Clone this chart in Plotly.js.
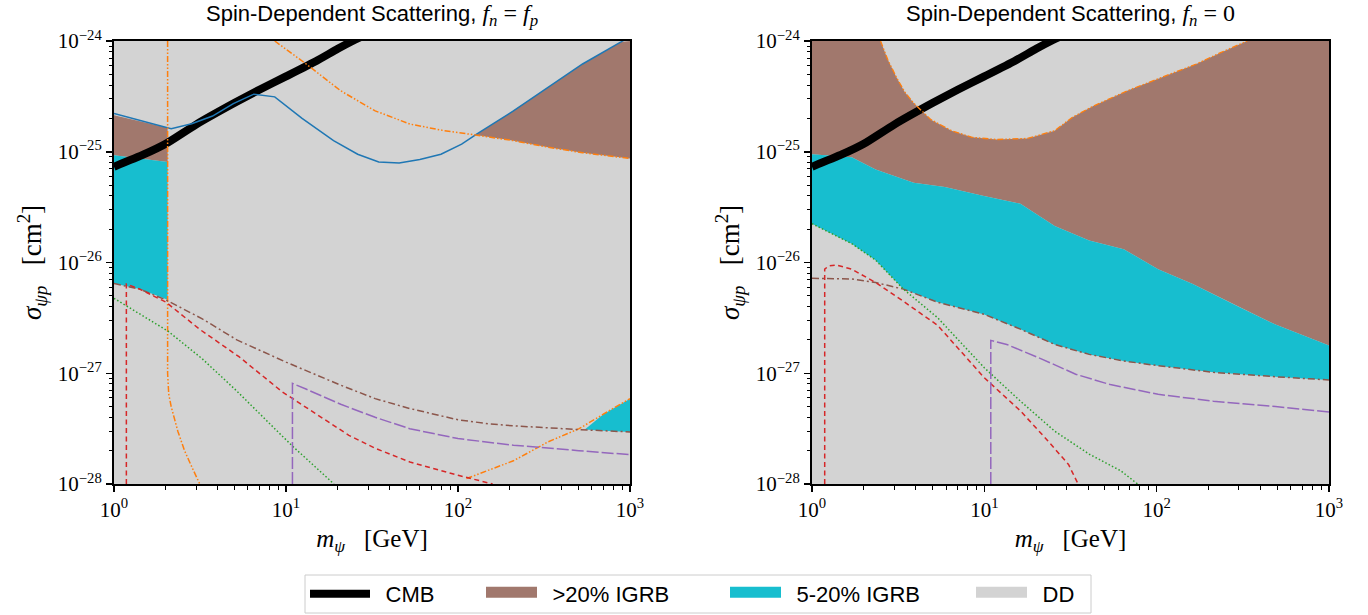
<!DOCTYPE html>
<html><head><meta charset="utf-8">
<script src="https://cdn.plot.ly/plotly-3.0.1.min.js"></script>
<style>html,body{margin:0;padding:0;background:#fff}#chart{width:1368px;height:615px}</style>
</head><body><div id="chart"></div>
<script>
// ---------- tick labels ----------
const xTickVals = [1, 10, 100, 1000];
const xTickText = ['10<sup>0</sup>', '10<sup>1</sup>', '10<sup>2</sup>', '10<sup>3</sup>'];
const yTickVals = [1e-28, 1e-27, 1e-26, 1e-25, 1e-24];
const yTickText = ['10<sup>\u221228</sup>', '10<sup>\u221227</sup>', '10<sup>\u221226</sup>', '10<sup>\u221225</sup>', '10<sup>\u221224</sup>'];

// ---------- legend labels ----------
const legendNames = ['CMB', '>20% IGRB', '5-20% IGRB', 'DD'];

// ---------- axis extents (data units) ----------
const massRange = [1, 1000];
const sigmaRange = [1e-28, 1e-24];

// ---------- CMB bound (both panels) ----------
const cmbMass  = [1, 1.5, 2, 3, 5, 7, 10, 15, 20, 25, 30];
const cmbSigma = [7.33e-26, 9.5e-26, 1.18e-25, 1.76e-25, 2.75e-25, 3.63e-25, 4.79e-25, 6.6e-25, 8.5e-25, 1.02e-24, 1.17e-24];

// ---------- Left panel: f_n = f_p ----------
const L_blueMass  = [1, 1.41, 2.15, 2.83, 3.74, 4.94, 6.5, 8.6, 12.4, 18.9, 26.1, 34.6, 45.5, 60, 79.6, 105, 129, 210, 334, 530, 887, 1100];
const L_blueSigma = [2.22e-25, 1.91e-25, 1.61e-25, 1.79e-25, 2.1e-25, 2.72e-25, 3.31e-25, 3.13e-25, 2.0e-25, 1.26e-25, 9.5e-26, 8.1e-26, 7.9e-26, 8.5e-26, 9.5e-26, 1.17e-25, 1.45e-25, 2.34e-25, 3.8e-25, 6.2e-25, 9.8e-25, 1.2e-24];

const L_orangeAMass  = [2.05, 2.05, 2.08, 2.15, 2.35, 2.57, 2.85, 3.15];
const L_orangeASigma = [1e-24, 1e-27, 6.5e-28, 5e-28, 3e-28, 2e-28, 1.4e-28, 1e-28];
const L_orangeBMass  = [8.6, 13.1, 20.8, 33, 52.5, 83, 129, 210, 334, 530, 1000];
const L_orangeBSigma = [1e-24, 6.2e-25, 3.55e-25, 2.34e-25, 1.78e-25, 1.55e-25, 1.41e-25, 1.26e-25, 1.1e-25, 9.8e-26, 8.7e-26];
const L_orangeCMass  = [112, 210, 334, 506, 700, 1000];
const L_orangeCSigma = [1.12e-28, 1.62e-28, 2.4e-28, 3.16e-28, 4.27e-28, 5.9e-28];

const L_brownDDMass  = [1, 1.41, 2, 3.26, 5.18, 10, 20.8, 33, 52.5, 75, 100, 150, 210, 504, 1000];
const L_brownDDSigma = [6.45e-27, 5.75e-27, 4.6e-27, 3.1e-27, 2.0e-27, 1.26e-27, 7.8e-28, 5.9e-28, 4.8e-28, 4.2e-28, 3.8e-28, 3.5e-28, 3.35e-28, 3.1e-28, 2.95e-28];

const L_redMass  = [1.18, 1.18, 1.41, 2, 3.14, 5.33, 9.5, 23.2, 33, 52.5, 100, 159];
const L_redSigma = [1e-28, 6.4e-27, 5.75e-27, 4.4e-27, 2.5e-27, 1.41e-27, 6.8e-28, 2.75e-28, 2.1e-28, 1.58e-28, 1.2e-28, 1e-28];

const L_greenMass  = [1, 2.06, 3.26, 5.18, 8.6, 10.9, 19];
const L_greenSigma = [4.75e-27, 2.4e-27, 1.35e-27, 6.9e-28, 3.16e-28, 2.2e-28, 1e-28];

const L_purpleMass  = [10.9, 10.9, 13.06, 20.8, 33, 52.4, 100, 210, 504, 1000];
const L_purpleSigma = [1e-28, 8.1e-28, 7.2e-28, 5.25e-28, 4.0e-28, 3.16e-28, 2.57e-28, 2.24e-28, 2.0e-28, 1.84e-28];

// filled regions, left panel
const L_hiTopMass = [1, 1.41, 2.05];
const L_hiTopSigma = [2.14e-25, 1.88e-25, 1.65e-25];
const L_hiBotMass = [2.05, 1];
const L_hiBotSigma = [8.1e-26, 9.3e-26];
const L_midMass  = [1, 2.05, 2.05, 1.41, 1];
const L_midSigma = [9.3e-26, 8.1e-26, 4.6e-27, 5.75e-27, 6.45e-27];
const L_hiRightMass  = [129, 210, 334, 530, 887, 1000, 1000, 530, 334, 210, 129];
const L_hiRightSigma = [1.45e-25, 2.34e-25, 3.8e-25, 6.2e-25, 9.8e-25, 1.0e-24, 8.7e-26, 9.8e-26, 1.1e-25, 1.26e-25, 1.41e-25];
const L_midRightMass  = [546, 700, 1000, 1000, 700, 546];
const L_midRightSigma = [3.1e-28, 4.27e-28, 5.9e-28, 2.95e-28, 3.02e-28, 3.1e-28];

// ---------- Right panel: f_n = 0 ----------
const R_holeMass  = [2.5, 2.75, 3.09, 3.45, 3.89, 4.9, 6.45, 8.5, 11.8, 17.8, 25.6, 32.3, 42.6, 67.5, 107, 170, 235, 335];
const R_holeSigma = [1e-24, 6.8e-25, 4.7e-25, 3.47e-25, 2.75e-25, 1.95e-25, 1.55e-25, 1.35e-25, 1.29e-25, 1.32e-25, 1.55e-25, 2.04e-25, 2.57e-25, 3.55e-25, 4.7e-25, 6.2e-25, 7.85e-25, 1e-24];

const R_cyanTopMass  = [1, 1.7, 2.34, 3.89, 5.9, 9.8, 16.2, 25.6, 40.6, 64.4, 102, 162, 307, 489, 1000];
const R_cyanTopSigma = [9.5e-26, 8.9e-26, 6.9e-26, 5.25e-26, 4.8e-26, 4.0e-26, 3.4e-26, 2.14e-26, 1.58e-26, 1.32e-26, 8.7e-27, 6.4e-27, 3.9e-27, 2.75e-27, 1.78e-27];

const R_greenMass  = [1, 1.7, 2.34, 3.39, 5.37, 10, 16.2, 25.6, 40.6, 61.7, 77.6];
const R_greenSigma = [2.24e-26, 1.48e-26, 1.05e-26, 5.75e-27, 3.16e-27, 1.12e-27, 5.6e-28, 3.0e-28, 1.86e-28, 1.32e-28, 1e-28];

const R_brownDDMass  = [1, 1.7, 2.34, 3.39, 5.37, 10, 16.2, 25.6, 40.6, 64.4, 102, 213, 489, 1000];
const R_brownDDSigma = [7.2e-27, 7.1e-27, 6.6e-27, 5.75e-27, 4.37e-27, 3.4e-27, 2.5e-27, 1.82e-27, 1.48e-27, 1.29e-27, 1.17e-27, 1.02e-27, 9.3e-28, 8.7e-28];

const R_redMass  = [1.185, 1.185, 1.25, 1.38, 1.7, 2.34, 3.39, 5.37, 10, 16.2, 23.4, 30.8, 35];
const R_redSigma = [1e-28, 8.7e-27, 9.3e-27, 9.5e-27, 8.7e-27, 6.6e-27, 4.47e-27, 2.7e-27, 9.1e-28, 4.57e-28, 2.45e-28, 1.5e-28, 1e-28];

const R_purpleMass  = [10.9, 10.9, 13.5, 21.4, 33.9, 53.8, 102, 213, 489, 1000];
const R_purpleSigma = [1e-28, 1.98e-27, 1.82e-27, 1.35e-27, 9.8e-28, 7.9e-28, 6.45e-28, 5.6e-28, 5.0e-28, 4.47e-28];

// ---------- colours ----------
const C = {
  dd: '#d3d3d3', hi: '#a1786d', mid: '#17becf', cmb: '#000000',
  blue: '#1f77b4', orange: '#ff7f0e', red: '#d62728', green: '#2ca02c', purple: '#9467bd', brown: '#8c564b'
};

function fillTrace(x, y, color, xa, ya) {
  return {x: x, y: y, xaxis: xa, yaxis: ya, type: 'scatter', mode: 'lines', fill: 'toself',
    fillcolor: color, line: {width: 0, color: color}, showlegend: false, hoverinfo: 'skip'};
}
function lineTrace(x, y, color, dash, width, xa, ya) {
  return {x: x, y: y, xaxis: xa, yaxis: ya, type: 'scatter', mode: 'lines',
    line: {color: color, dash: dash, width: width}, showlegend: false, hoverinfo: 'skip'};
}
function legendSwatch(name, color, legendId) {
  return {x: [null], y: [null], type: 'scatter', mode: 'lines', fill: 'toself', fillcolor: color,
    line: {color: color, width: 16}, name: name, showlegend: true, legend: legendId, hoverinfo: 'skip'};
}
const DASH = {orange: '6px,2px,1.5px,2px,1.5px,2px', red: '5px,3.5px', green: '1.5px,2.2px',
  brown: '7px,3px,2px,3px', purple: '12px,3px'};

const ddX = [massRange[0], massRange[1], massRange[1], massRange[0]];
const ddY = [sigmaRange[0], sigmaRange[0], sigmaRange[1], sigmaRange[1]];

const traces = [];
// left fills
traces.push(fillTrace(ddX, ddY, C.dd, 'x', 'y'));
traces.push(fillTrace(L_hiTopMass.concat(L_hiBotMass), L_hiTopSigma.concat(L_hiBotSigma), C.hi, 'x', 'y'));
traces.push(fillTrace(L_midMass, L_midSigma, C.mid, 'x', 'y'));
traces.push(fillTrace(L_hiRightMass, L_hiRightSigma, C.hi, 'x', 'y'));
traces.push(fillTrace(L_midRightMass, L_midRightSigma, C.mid, 'x', 'y'));
// right fills
traces.push(fillTrace(ddX, ddY, C.dd, 'x2', 'y2'));
const rBrownX = [massRange[0]].concat(R_holeMass, [massRange[1]], R_cyanTopMass.slice().reverse());
const rBrownY = [sigmaRange[1]].concat(R_holeSigma, [sigmaRange[1]], R_cyanTopSigma.slice().reverse());
traces.push(fillTrace(rBrownX, rBrownY, C.hi, 'x2', 'y2'));
const rBotX = R_greenMass.slice(0, 4).concat(R_brownDDMass.slice(4));
const rBotY = R_greenSigma.slice(0, 4).concat(R_brownDDSigma.slice(4));
traces.push(fillTrace(R_cyanTopMass.concat(rBotX.slice().reverse()), R_cyanTopSigma.concat(rBotY.slice().reverse()), C.mid, 'x2', 'y2'));

// CMB
traces.push({x: cmbMass, y: cmbSigma, xaxis: 'x', yaxis: 'y', type: 'scatter', mode: 'lines', line: {color: C.cmb, width: 8, shape: 'spline', smoothing: 0.6},
  name: '\u00a0\u2009' + legendNames[0], showlegend: true, legend: 'legend', hoverinfo: 'skip'});
traces.push({x: cmbMass, y: cmbSigma, xaxis: 'x2', yaxis: 'y2', type: 'scatter', mode: 'lines', line: {color: C.cmb, width: 8, shape: 'spline', smoothing: 0.6},
  showlegend: false, hoverinfo: 'skip'});

// left lines
traces.push(lineTrace(L_blueMass, L_blueSigma, C.blue, 'solid', 1.5, 'x', 'y'));
traces.push(lineTrace(L_orangeAMass, L_orangeASigma, C.orange, DASH.orange, 1.5, 'x', 'y'));
traces.push(lineTrace(L_orangeBMass, L_orangeBSigma, C.orange, DASH.orange, 1.5, 'x', 'y'));
traces.push(lineTrace(L_orangeCMass, L_orangeCSigma, C.orange, DASH.orange, 1.5, 'x', 'y'));
traces.push(lineTrace(L_brownDDMass, L_brownDDSigma, C.brown, DASH.brown, 1.5, 'x', 'y'));
traces.push(lineTrace(L_redMass, L_redSigma, C.red, DASH.red, 1.5, 'x', 'y'));
traces.push(lineTrace(L_greenMass, L_greenSigma, C.green, DASH.green, 1.5, 'x', 'y'));
traces.push(lineTrace(L_purpleMass, L_purpleSigma, C.purple, DASH.purple, 1.5, 'x', 'y'));
// right lines
traces.push(lineTrace(R_holeMass, R_holeSigma, C.orange, DASH.orange, 1.3, 'x2', 'y2'));
traces.push(lineTrace(R_brownDDMass, R_brownDDSigma, C.brown, DASH.brown, 1.5, 'x2', 'y2'));
traces.push(lineTrace(R_redMass, R_redSigma, C.red, DASH.red, 1.5, 'x2', 'y2'));
traces.push(lineTrace(R_greenMass, R_greenSigma, C.green, DASH.green, 1.5, 'x2', 'y2'));
traces.push(lineTrace(R_purpleMass, R_purpleSigma, C.purple, DASH.purple, 1.5, 'x2', 'y2'));

// legend swatches for the filled regions
traces.push(legendSwatch('\u00a0\u2009' + legendNames[1], C.hi, 'legend2'));
traces.push(legendSwatch('\u00a0\u2009' + legendNames[2], C.mid, 'legend3'));
traces.push(legendSwatch('\u00a0\u2009' + legendNames[3], C.dd, 'legend4'));

function minorVals(lo, hi) {
  const out = [];
  for (let e = lo; e < hi; e++) for (let m = 2; m <= 9; m++) out.push(m * Math.pow(10, e));
  return out;
}
const serif = 'Liberation Serif, DejaVu Serif, serif';
const sans = 'Liberation Sans, DejaVu Sans, sans-serif';

function xAxis(domain, anchor) {
  return {type: 'log', range: [0, 3], domain: domain, anchor: anchor,
    tickmode: 'array', tickvals: xTickVals, ticktext: xTickText,
    ticks: 'outside', ticklen: 6, tickwidth: 1.5, tickcolor: '#000',
    minor: {tickmode: 'array', tickvals: minorVals(0, 3), ticks: 'outside', ticklen: 3.5, tickwidth: 1, tickcolor: '#000', showgrid: false},
    showline: true, linecolor: '#000', linewidth: 2, mirror: true, showgrid: false, zeroline: false,
    tickfont: {family: serif, size: 21, color: '#000'}, automargin: false,
    title: {text: '<i>m</i><sub><i>\u03c8</i></sub>   [GeV]', font: {family: serif, size: 25, color: '#000'}, standoff: 8}};
}
function yAxis(domain, anchor) {
  return {type: 'log', range: [-28, -24], domain: domain, anchor: anchor,
    tickmode: 'array', tickvals: yTickVals, ticktext: yTickText,
    ticks: 'outside', ticklen: 6, tickwidth: 1.5, tickcolor: '#000',
    minor: {tickmode: 'array', tickvals: minorVals(-28, -24), ticks: 'outside', ticklen: 3.5, tickwidth: 1, tickcolor: '#000', showgrid: false},
    showline: true, linecolor: '#000', linewidth: 2, mirror: true, showgrid: false, zeroline: false,
    tickfont: {family: serif, size: 21, color: '#000'}, automargin: false,
    title: {text: '<i>\u03c3</i><sub><i>\u03c8p</i></sub>   [cm<sup>2</sup>]', font: {family: serif, size: 27, color: '#000'}, standoff: 8}};
}
const yDom = [1 - 484 / 615, 1 - 41 / 615];
const xDomL = [114 / 1368, 630 / 1368];
const xDomR = [812 / 1368, 1329 / 1368];

function legendBox(xpx, itemw) {
  return {orientation: 'h', x: xpx / 1368, xanchor: 'left', y: 1 - 594 / 615, yanchor: 'middle',
    bgcolor: 'rgba(0,0,0,0)', borderwidth: 0, itemwidth: itemw, itemclick: false,
    font: {family: sans, size: 22, color: '#000'}};
}
const titleMath = 'font-family:Liberation Serif;font-size:24px';
const layout = {
  width: 1368, height: 615, margin: {l: 0, r: 0, t: 0, b: 0},
  paper_bgcolor: '#fff', plot_bgcolor: '#d3d3d3',
  xaxis: xAxis(xDomL, 'y'), yaxis: yAxis(yDom, 'x'),
  xaxis2: xAxis(xDomR, 'y2'), yaxis2: yAxis(yDom, 'x2'),
  showlegend: true,
  legend: legendBox(305, 60),
  legend2: legendBox(481, 51),
  legend3: legendBox(725, 51),
  legend4: legendBox(971, 51),
  shapes: [{type: 'path', xref: 'paper', yref: 'paper', layer: 'below',
    path: (function () {
      const x0 = 305 / 1368, x1 = 1091 / 1368, y0 = 1 - 613 / 615, y1 = 1 - 575 / 615;
      return 'M' + x0 + ',' + y0 + ' L' + x1 + ',' + y0 + ' L' + x1 + ',' + y1 + ' L' + x0 + ',' + y1 + ' Z';
    })(),
    line: {color: '#cccccc', width: 1}, fillcolor: 'rgba(255,255,255,0)'}],
  annotations: [
    {xref: 'paper', yref: 'paper', x: (xDomL[0] + xDomL[1]) / 2, y: 1 - 15 / 615, xanchor: 'center', yanchor: 'middle', showarrow: false,
     text: 'Spin-Dependent Scattering, <span style="' + titleMath + '"><i>f</i><sub><i>n</i></sub> = <i>f</i><sub><i>p</i></sub></span>',
     font: {family: sans, size: 22, color: '#000'}},
    {xref: 'paper', yref: 'paper', x: (xDomR[0] + xDomR[1]) / 2, y: 1 - 15 / 615, xanchor: 'center', yanchor: 'middle', showarrow: false,
     text: 'Spin-Dependent Scattering, <span style="' + titleMath + '"><i>f</i><sub><i>n</i></sub> = 0</span>',
     font: {family: sans, size: 22, color: '#000'}}
  ]
};
Plotly.newPlot('chart', traces, layout, {displayModeBar: false, staticPlot: true});
</script></body></html>
